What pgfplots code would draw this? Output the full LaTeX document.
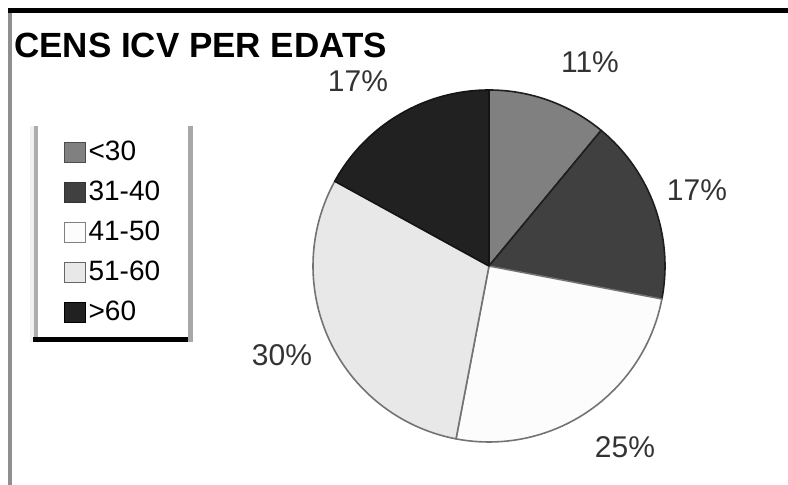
\documentclass[border=0pt]{standalone}
\usepackage{pgfplots}
\usepackage{pgfplotstable}
\pgfplotsset{compat=1.18}
\usepackage{fontspec}
\setmainfont{Liberation Sans}
\definecolor{cA}{gray}{0.50}
\definecolor{cB}{gray}{0.25}
\definecolor{cC}{gray}{0.99}
\definecolor{cD}{gray}{0.91}
\definecolor{cE}{gray}{0.13}
\pgfplotstableread{
label value fill line
<30   11 0.50 0.12
31-40 17 0.25 0.12
41-50 25 0.99 0.45
51-60 30 0.91 0.45
>60   17 0.13 0.08
}\piedata
\begin{document}
\begin{tikzpicture}
\begin{axis}[
  width=788bp, height=485bp, scale only axis,
  xmin=0, xmax=788, ymin=0, ymax=485,
  hide axis, clip=false,
  legend image code/.code={\filldraw[#1] (0bp,-10bp) rectangle (21bp,10bp);},
  legend style={at={(axis cs:64,344)}, anchor=north west, draw=none, fill=none,
    inner sep=0pt, row sep=19bp, column sep=3bp,
    font=\fontsize{28bp}{30bp}\selectfont,
    nodes={inner sep=0pt}, cells={anchor=west}},
]
\path (axis cs:0,0) rectangle (axis cs:788,485);
% frame
\fill[black] (axis cs:8,477) rectangle (axis cs:788,472);
\fill[black!44] (axis cs:8,472) rectangle (axis cs:12,0);
% legend frame
\fill[black!6] (axis cs:30,359) rectangle (axis cs:34,143);
\fill[black!32] (axis cs:34,359) rectangle (axis cs:38,143);
\fill[black!34] (axis cs:188,359) rectangle (axis cs:193,143);
\fill[black] (axis cs:33,148) rectangle (axis cs:188,143);
% pie
\def\cum{0}
\pgfplotsforeachungrouped \i in {0,...,4}{%
  \pgfplotstablegetelem{\i}{value}\of\piedata \let\v\pgfplotsretval
  \pgfplotstablegetelem{\i}{fill}\of\piedata \let\f\pgfplotsretval
  \pgfplotstablegetelem{\i}{line}\of\piedata \let\l\pgfplotsretval
  \pgfmathsetmacro\sa{90-3.6*\cum}%
  \pgfmathsetmacro\ea{90-3.6*(\cum+\v)}%
  \pgfmathsetmacro\cum{\cum+\v}%
  \edef\temp{\noexpand\filldraw[fill={rgb,1:red,\f;green,\f;blue,\f},
    draw={rgb,1:red,\l;green,\l;blue,\l}, line width=1.6bp, line join=round]
    (axis cs:489,219) -- ++(\sa:176bp) arc[start angle=\sa, end angle=\ea, radius=176bp] -- cycle;}%
  \temp
}
% labels
\begin{scope}[every node/.style={inner sep=0pt, font=\fontsize{30bp}{34bp}\selectfont, text=black!80}]
\node at (axis cs:590,423) {11\%};
\node at (axis cs:697,295) {17\%};
\node at (axis cs:625,38) {25\%};
\node at (axis cs:282,130) {30\%};
\node at (axis cs:358,404) {17\%};
\end{scope}
\node[anchor=base west, inner sep=0pt, font=\bfseries\fontsize{35bp}{40bp}\selectfont] at (axis cs:14,427) {CENS ICV PER EDATS};
\addlegendimage{fill=cA, draw=black!70}
\addlegendentry{<30}
\addlegendimage{fill=cB, draw=black!80}
\addlegendentry{31-40}
\addlegendimage{fill=cC, draw=black!50}
\addlegendentry{41-50}
\addlegendimage{fill=cD, draw=black!60}
\addlegendentry{51-60}
\addlegendimage{fill=cE, draw=black}
\addlegendentry{>60}
\end{axis}
\end{tikzpicture}
\end{document}
